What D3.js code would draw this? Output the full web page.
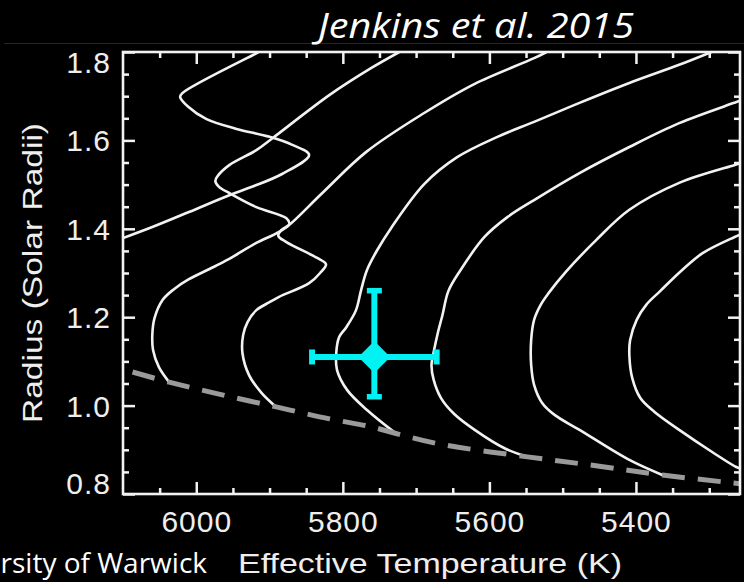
<!DOCTYPE html>
<html>
<head>
<meta charset="utf-8">
<script src="https://cdn.jsdelivr.net/npm/d3@7"></script>
<style>
  html, body { margin: 0; padding: 0; background: #000; }
  svg { display: block; }
</style>
</head>
<body>
<svg id="chart" width="744" height="582"></svg>
<script>
// Axis ticks
const tempTicks = [6000, 5800, 5600, 5400];
const tempMinorTicks = [6050, 5950, 5900, 5850, 5750, 5700, 5650, 5550, 5500, 5450, 5350, 5300];
const radiusTicks = [0.8, 1.0, 1.2, 1.4, 1.6, 1.8];
const radiusMinorTicks = [0.85, 0.9, 0.95, 1.05, 1.1, 1.15, 1.25, 1.3, 1.35, 1.45, 1.5, 1.55, 1.65, 1.7, 1.75];

// Isochrones: [effective temperature (K), radius (R_sun)]
const iso1 = [[6100,1.379],[6060,1.404],[6010,1.438],[5955,1.476],[5924,1.495],[5883,1.524],[5846,1.567],
  [5869,1.590],[5900,1.608],[5945,1.626],[5986,1.648],[6011,1.676],[6022,1.698],[6019,1.707],[5917,1.798],[5915,1.8]];
const iso2 = [[6037,1.053],[6051,1.087],[6059,1.126],[6060,1.160],[6057,1.198],[6046,1.239],[6030,1.264],
  [6010,1.286],[5982,1.309],[5955,1.332],[5918,1.368],[5887,1.393],[5873,1.411],[5877,1.424],[5918,1.449],
  [5955,1.481],[5969,1.495],[5974,1.508],[5971,1.519],[5955,1.544],[5918,1.578],[5896,1.605],[5818,1.703],
  [5761,1.764],[5723,1.8]];
const iso3 = [[5891,0.997],[5911,1.029],[5928,1.069],[5937,1.119],[5936,1.160],[5930,1.189],[5918,1.216],
  [5900,1.234],[5887,1.246],[5846,1.277],[5831,1.300],[5823,1.320],[5835,1.334],[5877,1.370],[5888,1.384],
  [5884,1.397],[5873,1.409],[5828,1.481],[5768,1.574],[5689,1.662],[5620,1.728],[5539,1.786],[5522,1.8]];
const iso4 = [[5730,0.940],[5767,0.990],[5794,1.035],[5808,1.081],[5809,1.119],[5805,1.155],[5795,1.178],
  [5782,1.216],[5775,1.262],[5767,1.307],[5753,1.352],[5734,1.402],[5689,1.501],[5644,1.562],[5589,1.608],
  [5539,1.642],[5477,1.685],[5409,1.730],[5341,1.771],[5297,1.8]];
const iso5 = [[5548,0.884],[5580,0.904],[5620,0.945],[5648,0.981],[5666,1.017],[5676,1.058],[5679,1.092],
  [5676,1.121],[5670,1.167],[5664,1.205],[5656,1.259],[5640,1.305],[5607,1.381],[5575,1.427],[5539,1.465],
  [5477,1.526],[5409,1.585],[5341,1.639],[5266,1.685],[5256,1.691]];
const iso6 = [[5364,0.843],[5409,0.877],[5477,0.945],[5511,0.979],[5528,1.006],[5539,1.047],[5543,1.092],
  [5543,1.148],[5539,1.194],[5530,1.228],[5519,1.255],[5496,1.302],[5454,1.375],[5409,1.443],[5341,1.504],
  [5266,1.544],[5256,1.549]];
const iso7 = [[5256,0.857],[5263,0.861],[5296,0.895],[5341,0.945],[5375,0.986],[5394,1.017],[5405,1.062],
  [5409,1.114],[5408,1.148],[5399,1.194],[5386,1.228],[5367,1.259],[5338,1.305],[5309,1.345],[5266,1.381],
  [5256,1.388]];
const isochrones = [iso1, iso2, iso3, iso4, iso5, iso6, iso7];

// Zero-age main sequence
const zams = [[6087,1.076],[6037,1.053],[5969,1.026],[5891,0.997],[5818,0.970],[5761,0.952],[5730,0.938],
  [5668,0.913],[5548,0.884],[5450,0.863],[5364,0.843],[5256,0.823]];

// Kepler-452 measurement
const starTeff = [5757];
const starTeffErr = [85];
const starRadius = [1.11];
const starRadiusErrHi = [0.15];
const starRadiusErrLo = [0.09];

const svg = d3.select("#chart");
const W = 744, H = 582;
const pLeft = 123, pRight = 740, pTop = 52, pBottom = 494;

const x = d3.scaleLinear().domain([6100, 5258]).range([pLeft, pRight]);
const y = d3.scaleLinear().domain([0.8, 1.8]).range([pBottom, pTop]);

svg.append("rect").attr("width", W).attr("height", H).attr("fill", "#000");

// faint rule under the heading
svg.append("line").attr("x1", 4).attr("x2", W).attr("y1", 43.5).attr("y2", 43.5)
  .attr("stroke", "#262626").attr("stroke-width", 1);

svg.append("text")
  .attr("x", 318).attr("y", 38)
  .attr("textLength", 316).attr("lengthAdjust", "spacingAndGlyphs")
  .attr("fill", "#fff")
  .style("font-family", "'Open Sans', sans-serif")
  .style("font-style", "italic")
  .style("font-size", "35px")
  .text("Jenkins et al. 2015");

svg.append("defs").append("clipPath").attr("id", "plotClip")
  .append("rect").attr("x", pLeft).attr("y", pTop).attr("width", pRight - pLeft).attr("height", pBottom - pTop);

const plot = svg.append("g").attr("clip-path", "url(#plotClip)");

const line = d3.line()
  .x(d => x(d[0])).y(d => y(d[1]))
  .curve(d3.curveCatmullRom.alpha(0.5));

plot.selectAll("path.iso").data(isochrones).join("path")
  .attr("class", "iso")
  .attr("d", line)
  .attr("fill", "none")
  .attr("stroke", "#f2f2f2")
  .attr("stroke-width", 2.6)
  .attr("stroke-linejoin", "round");

plot.append("path")
  .attr("d", line(zams))
  .attr("fill", "none")
  .attr("stroke", "#9a9a9a")
  .attr("stroke-width", 5)
  .attr("stroke-dasharray", "23,13");

// Axes with inward ticks on all four sides
const tickFont = g => g.selectAll("text")
  .attr("fill", "#eeeeee")
  .style("font-family", "'Liberation Sans', Arial, sans-serif")
  .style("font-size", "30px")
  .style("letter-spacing", "1px");

function addAxis(gen, transform, labelled) {
  const g = svg.append("g").attr("transform", transform).call(gen);
  g.select(".domain").remove();
  g.selectAll("line").attr("stroke", "#f2f2f2").attr("stroke-width", 2.5);
  if (!labelled) g.selectAll("text").remove();
  return g;
}

const xb = addAxis(d3.axisBottom(x).tickValues(tempTicks).tickSize(-12).tickPadding(17).tickFormat(d3.format("d")),
  `translate(0,${pBottom})`, true);
xb.call(tickFont);
addAxis(d3.axisBottom(x).tickValues(tempMinorTicks).tickSize(-6), `translate(0,${pBottom})`, false);
addAxis(d3.axisTop(x).tickValues(tempTicks).tickSize(-12), `translate(0,${pTop})`, false);
addAxis(d3.axisTop(x).tickValues(tempMinorTicks).tickSize(-6), `translate(0,${pTop})`, false);

const yl = addAxis(d3.axisLeft(y).tickValues(radiusTicks).tickSize(-12).tickPadding(12).tickFormat(d3.format(".1f")),
  `translate(${pLeft},0)`, true);
yl.call(tickFont);
yl.selectAll("text").attr("dy", d => d === 1.8 ? "0.68em" : d === 0.8 ? "-0.02em" : "0.35em");
addAxis(d3.axisLeft(y).tickValues(radiusMinorTicks).tickSize(-6), `translate(${pLeft},0)`, false);
addAxis(d3.axisRight(y).tickValues(radiusTicks).tickSize(-12), `translate(${pRight},0)`, false);
addAxis(d3.axisRight(y).tickValues(radiusMinorTicks).tickSize(-6), `translate(${pRight},0)`, false);

// plot frame
svg.append("rect")
  .attr("x", pLeft).attr("y", pTop).attr("width", pRight - pLeft).attr("height", pBottom - pTop)
  .attr("fill", "none").attr("stroke", "#f2f2f2").attr("stroke-width", 2.6);

// Axis titles
svg.append("text")
  .attr("x", 430).attr("y", 573).attr("text-anchor", "middle")
  .attr("textLength", 384).attr("lengthAdjust", "spacingAndGlyphs")
  .attr("fill", "#eeeeee")
  .style("font-family", "'Liberation Sans', Arial, sans-serif")
  .style("font-size", "28px")
  .text("Effective Temperature (K)");

svg.append("text")
  .attr("transform", "translate(42,273) rotate(-90)")
  .attr("text-anchor", "middle")
  .attr("textLength", 300).attr("lengthAdjust", "spacingAndGlyphs")
  .attr("fill", "#eeeeee")
  .style("font-family", "'Liberation Sans', Arial, sans-serif")
  .style("font-size", "28px")
  .text("Radius (Solar Radii)");

svg.append("text")
  .attr("x", 207).attr("y", 573).attr("text-anchor", "end")
  .attr("fill", "#ffffff")
  .style("font-family", "'Open Sans', sans-serif")
  .style("font-size", "28px")
  .text("University of Warwick");

// Star with error bars
const cyan = "#00f2f2";
const star = svg.append("g");
starTeff.forEach((t, i) => {
  const cx = x(t), cy = y(starRadius[i]);
  const xl = x(t + starTeffErr[i]), xr = x(t - starTeffErr[i]);
  const yt = y(starRadius[i] + starRadiusErrHi[i]), yb = y(starRadius[i] - starRadiusErrLo[i]);
  star.append("line").attr("x1", xl).attr("x2", xr).attr("y1", cy).attr("y2", cy)
    .attr("stroke", cyan).attr("stroke-width", 6);
  star.append("line").attr("x1", cx).attr("x2", cx).attr("y1", yt).attr("y2", yb)
    .attr("stroke", cyan).attr("stroke-width", 6);
  [xl, xr].forEach(xx => star.append("line").attr("x1", xx).attr("x2", xx).attr("y1", cy - 7.5).attr("y2", cy + 7.5)
    .attr("stroke", cyan).attr("stroke-width", 6));
  [yt, yb].forEach(yy => star.append("line").attr("x1", cx - 7.5).attr("x2", cx + 7.5).attr("y1", yy).attr("y2", yy)
    .attr("stroke", cyan).attr("stroke-width", 5.5));
  star.append("path")
    .attr("d", `M${cx},${cy - 16}L${cx + 16},${cy}L${cx},${cy + 16}L${cx - 16},${cy}Z`)
    .attr("fill", cyan);
});
</script>
</body>
</html>
